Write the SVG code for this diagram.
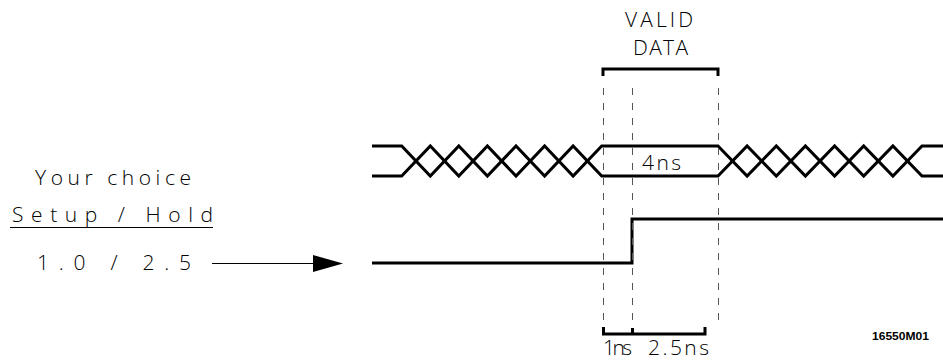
<svg xmlns="http://www.w3.org/2000/svg" width="943" height="360" viewBox="0 0 943 360">
<style>
.t{font-family:"Open Sans","Liberation Sans",sans-serif;font-weight:300;font-size:21px;fill:#000}
.sig{fill:none;stroke:#000;stroke-width:3}
.thin{fill:none;stroke:#000;stroke-width:1}
.dash{fill:none;stroke:#555;stroke-width:1;stroke-dasharray:7 8}
.lbl{font-family:"Liberation Sans",Arial,sans-serif;font-size:10px;font-weight:bold;fill:#000}
</style>
<rect width="943" height="360" fill="#fff"/>
<g id="valid-data">
<text class="t" x="625" y="27" textLength="68" lengthAdjust="spacing">VALID</text>
<text class="t" x="633" y="55" textLength="55" lengthAdjust="spacing">DATA</text>
<path class="sig" d="M603,76 V69 H718 V76"/>
</g>
<g id="data-bus">
<path class="sig" d="M372,146 H401.7 L430.3,176 L458.8,146 L487.4,176 L516,146 L544.6,176 L573.1,146 L601.7,176 H718 L747.1,146 L776.3,176 L805.4,146 L834.6,176 L863.7,146 L892.9,176 L922,146 H943"/>
<path class="sig" d="M372,176 H401.7 L430.3,146 L458.8,176 L487.4,146 L516,176 L544.6,146 L573.1,176 L601.7,146 H718 L747.1,176 L776.3,146 L805.4,176 L834.6,146 L863.7,176 L892.9,146 L922,176 H943"/>
<text class="t" x="642" y="170" textLength="39" lengthAdjust="spacing">4ns</text>
</g>
<g id="clock">
<path class="sig" d="M372,263 H632 V219 H943"/>
</g>
<g id="choice">
<text class="t" x="35" y="185" textLength="156" lengthAdjust="spacing">Your choice</text>
<text class="t" x="12" y="222" textLength="201" lengthAdjust="spacing">Setup / Hold</text>
<line class="thin" x1="10" y1="227.5" x2="213" y2="227.5"/>
<text class="t" x="37" y="270" textLength="154" lengthAdjust="spacing">1.0 / 2.5</text>
</g>
<g id="connectors">
<line class="thin" x1="212" y1="263.5" x2="314" y2="263.5"/>
<polygon points="313,255 343,263.5 313,272" fill="#000"/>
<line class="dash" x1="603.5" y1="88" x2="603.5" y2="328"/>
<line class="dash" x1="632.5" y1="88" x2="632.5" y2="328"/>
<line class="dash" x1="718.5" y1="88" x2="718.5" y2="326"/>
</g>
<g id="timing">
<path class="sig" d="M603.5,327 V334 H705 V327 M632.5,328 V334"/>
<text class="t" x="603" y="355" textLength="29" lengthAdjust="spacing">1ns</text>
<text class="t" x="648" y="355" textLength="61" lengthAdjust="spacing">2.5ns</text>
</g>
<g id="figure-id">
<text class="lbl" x="872" y="340" textLength="57" lengthAdjust="spacingAndGlyphs">16550M01</text>
</g>
</svg>
